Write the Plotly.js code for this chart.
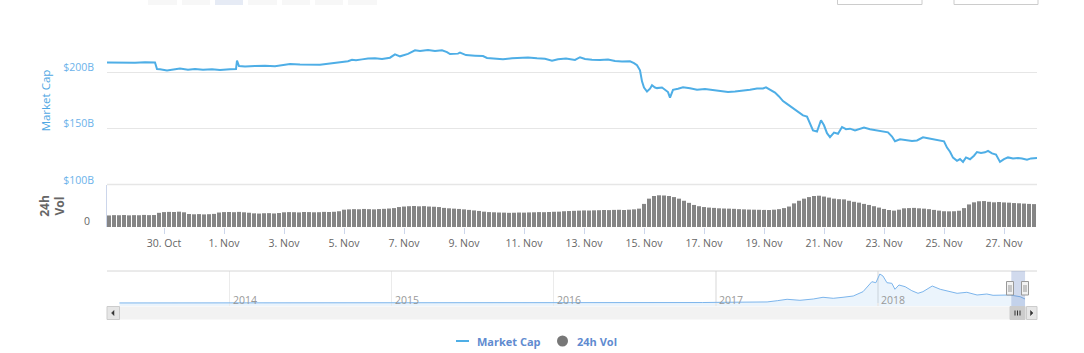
<!DOCTYPE html>
<html>
<head>
<meta charset="utf-8">
<script src="https://cdn.plot.ly/plotly-3.0.1.min.js"></script>
<style>
  html, body { margin: 0; padding: 0; background: #fff; }
  #chart { width: 1084px; height: 353px; }
</style>
</head>
<body>
<div id="chart"></div>
<script>
// ---------- DATA ----------
// Market cap (billions USD)
const mcTimes = [
  '2018-10-28 02:24','2018-10-28 08:48','2018-10-28 16:48',
  '2018-10-29 00:48','2018-10-29 08:48','2018-10-29 14:24','2018-10-29 16:48','2018-10-29 18:24','2018-10-29 20:48',
  '2018-10-30 02:24','2018-10-30 07:12','2018-10-30 12:48','2018-10-30 19:12',
  '2018-10-31 00:48','2018-10-31 07:12','2018-10-31 14:24','2018-10-31 20:48',
  '2018-11-01 00:48','2018-11-01 04:48','2018-11-01 09:36','2018-11-01 10:24','2018-11-01 12:00','2018-11-01 16:48',
  '2018-11-02 00:48','2018-11-02 08:48','2018-11-02 16:48','2018-11-02 23:12',
  '2018-11-03 04:48','2018-11-03 12:48','2018-11-03 20:48',
  '2018-11-04 04:48','2018-11-04 12:48','2018-11-04 20:48',
  '2018-11-05 03:12','2018-11-05 06:24','2018-11-05 09:36','2018-11-05 14:24','2018-11-05 19:12',
  '2018-11-06 00:48','2018-11-06 06:24','2018-11-06 12:48','2018-11-06 16:48','2018-11-06 20:48',
  '2018-11-07 03:12','2018-11-07 08:48','2018-11-07 12:48','2018-11-07 19:12',
  '2018-11-08 00:48','2018-11-08 06:24','2018-11-08 10:24','2018-11-08 12:48','2018-11-08 19:12','2018-11-08 20:48',
  '2018-11-09 01:36','2018-11-09 08:48','2018-11-09 15:12','2018-11-09 18:24',
  '2018-11-10 00:48','2018-11-10 07:12','2018-11-10 14:24','2018-11-10 20:48',
  '2018-11-11 03:12','2018-11-11 10:24','2018-11-11 16:48','2018-11-11 22:24',
  '2018-11-12 03:12','2018-11-12 09:36','2018-11-12 16:48','2018-11-12 20:48',
  '2018-11-13 00:48','2018-11-13 06:24','2018-11-13 12:48','2018-11-13 19:12',
  '2018-11-14 00:48','2018-11-14 06:24','2018-11-14 12:48','2018-11-14 16:00','2018-11-14 18:24','2018-11-14 20:48','2018-11-14 22:24',
  '2018-11-15 00:00','2018-11-15 02:24','2018-11-15 04:48','2018-11-15 06:24','2018-11-15 08:48','2018-11-15 10:24','2018-11-15 14:24','2018-11-15 16:48','2018-11-15 19:12','2018-11-15 20:48','2018-11-15 23:12',
  '2018-11-16 03:12','2018-11-16 07:12','2018-11-16 12:48','2018-11-16 18:24',
  '2018-11-17 00:48','2018-11-17 06:24','2018-11-17 12:48','2018-11-17 19:12',
  '2018-11-18 00:48','2018-11-18 06:24','2018-11-18 12:48','2018-11-18 18:24','2018-11-18 23:12',
  '2018-11-19 01:36','2018-11-19 04:48','2018-11-19 08:48','2018-11-19 12:00','2018-11-19 15:12','2018-11-19 18:24','2018-11-19 21:36',
  '2018-11-20 00:48','2018-11-20 04:00','2018-11-20 07:12','2018-11-20 10:24','2018-11-20 12:48','2018-11-20 15:12','2018-11-20 18:24','2018-11-20 21:36',
  '2018-11-21 00:00','2018-11-21 02:24','2018-11-21 04:48','2018-11-21 08:00','2018-11-21 11:12','2018-11-21 14:24','2018-11-21 17:36','2018-11-21 20:48',
  '2018-11-22 00:48','2018-11-22 04:48','2018-11-22 08:00','2018-11-22 12:48','2018-11-22 18:24','2018-11-22 23:12',
  '2018-11-23 03:12','2018-11-23 06:24','2018-11-23 08:48','2018-11-23 12:48','2018-11-23 17:36','2018-11-23 22:24',
  '2018-11-24 02:24','2018-11-24 07:12','2018-11-24 11:12','2018-11-24 16:00','2018-11-24 20:48',
  '2018-11-25 00:00','2018-11-25 02:24','2018-11-25 04:48','2018-11-25 07:12','2018-11-25 10:24','2018-11-25 12:48','2018-11-25 15:12','2018-11-25 17:36','2018-11-25 20:48',
  '2018-11-26 00:00','2018-11-26 02:24','2018-11-26 05:36','2018-11-26 08:48','2018-11-26 11:12','2018-11-26 14:24','2018-11-26 17:36','2018-11-26 20:48',
  '2018-11-27 00:00','2018-11-27 03:12','2018-11-27 07:12','2018-11-27 11:12','2018-11-27 14:24','2018-11-27 18:24','2018-11-27 21:36',
  '2018-11-28 02:24'
];
const mcValues = [
  208.7,208.5,208.9,
  208.6,209.0,209.2,208.8,203.0,202.8,
  201.6,202.6,203.3,202.4,
  202.9,202.3,202.7,202.1,
  202.6,202.8,202.9,210.4,205.6,205.2,
  205.6,205.9,205.5,206.8,
  207.3,207.0,206.6,
  206.8,207.8,208.6,
  209.8,211.2,210.8,211.5,212.3,
  212.4,211.9,213.0,216.0,214.2,
  216.4,219.6,219.0,219.8,
  219.0,219.5,218.0,216.3,216.6,217.6,
  215.3,214.8,214.5,212.8,
  212.0,211.6,212.6,212.9,
  213.2,212.4,212.0,210.4,
  211.6,212.2,211.0,213.4,
  211.8,211.2,210.9,211.3,
  210.0,209.6,209.8,208.2,206.3,201.8,192.0,
  186.5,183.0,185.5,188.5,186.5,186.0,186.5,184.5,182.5,177.5,184.5,
  185.5,186.8,185.8,184.5,
  185.3,184.3,183.2,182.6,
  183.0,183.6,184.6,185.6,185.6,
  186.6,184.6,182.0,178.6,174.5,172.0,169.5,
  167.5,165.0,161.8,160.8,155.0,148.4,147.5,157.5,
  153.0,146.0,142.5,146.5,145.5,151.5,149.5,150.0,
  148.4,149.8,151.1,149.5,148.4,147.8,
  146.7,143.0,138.8,140.5,140.0,139.0,
  139.5,142.3,141.5,140.6,139.8,
  138.8,133.2,129.5,124.3,121.5,123.0,120.5,124.5,122.9,
  126.0,129.3,128.5,129.0,130.3,128.0,127.0,120.5,
  123.0,124.5,123.5,124.0,123.5,122.5,123.6,
  123.9
];

// 24h volume (billions USD), one bar every 4 hours
const volStart = '2018-10-28 04:00';
const volStepHours = 4;
const volValues = [
  11.0,11.3,11.2,11.4,11.1,11.3,11.2,11.5,11.3,11.4,
  13.5,14.2,14.4,14.3,14.6,14.0,
  12.4,12.1,12.3,12.0,12.2,12.5,
  13.8,14.2,14.3,14.1,14.4,14.0,13.6,
  13.0,12.8,13.1,13.2,12.9,13.3,
  14.0,14.2,14.1,13.9,14.3,14.2,14.0,14.1,14.4,14.3,14.5,15.0,
  16.5,16.8,17.0,16.9,17.2,17.0,16.8,17.1,17.3,17.6,18.0,
  19.0,19.5,19.8,20.0,19.7,19.9,19.5,19.3,19.0,
  18.2,17.8,17.5,17.2,16.8,16.3,15.8,15.3,
  14.6,14.2,14.0,13.8,13.7,13.5,13.6,13.8,13.7,13.9,14.0,14.2,14.1,14.3,14.5,14.6,
  15.0,15.2,15.4,15.6,15.8,15.7,15.9,16.0,16.2,16.1,16.3,16.4,16.2,16.5,16.8,17.5,
  22.0,27.0,29.5,
  30.2,30.0,29.5,28.5,27.0,
  25.0,23.0,21.0,19.8,
  19.0,18.5,18.2,17.8,17.6,17.5,17.3,17.0,16.8,16.6,16.5,16.4,
  16.3,16.2,16.5,17.0,18.0,19.5,
  22.5,25.0,27.0,28.5,29.5,29.8,29.0,28.0,
  27.0,26.5,26.3,25.0,24.0,23.2,22.0,
  21.0,19.8,18.5,17.2,16.2,15.6,16.5,
  17.8,18.0,18.2,17.8,17.5,17.0,16.3,15.6,
  15.0,14.9,15.0,15.5,
  18.0,21.5,23.5,24.5,24.7,
  24.0,23.5,23.8,23.4,23.2,22.8,22.6,22.3,22.0,21.8
];

// Navigator: full history of market cap (billions USD)
const navTimes = ['2013-04-28','2013-07-01','2013-10-01','2013-11-30','2014-01-15','2014-04-01','2014-07-01','2014-10-01',
  '2015-01-15','2015-04-01','2015-07-01','2015-10-01','2015-12-01','2016-03-01','2016-06-15','2016-09-01','2016-12-01',
  '2017-01-01','2017-03-01','2017-04-26','2017-05-19','2017-06-10','2017-07-09','2017-08-08','2017-08-30','2017-09-22',
  '2017-10-14','2017-11-06','2017-11-28','2017-12-18','2017-12-27','2018-01-05','2018-01-12','2018-01-21','2018-02-01',
  '2018-02-08','2018-02-17','2018-03-03','2018-03-18','2018-04-01','2018-04-12','2018-05-03','2018-05-21','2018-06-05',
  '2018-06-28','2018-07-20','2018-08-12','2018-09-03','2018-09-17','2018-10-25','2018-11-17','2018-11-28'];
const navValues = [1.5,1.2,1.8,14,11,7,8,5.5,
  3.5,3.6,4.5,3.8,6,7,12,11,13,
  18,22,30,66,106,77,114,163,134,
  163,200,323,609,580,829,772,580,563,
  392,515,466,352,277,323,486,392,343,
  277,306,229,257,220,229,180,115];

const yTicks = [100,150,200,250];
const yTickText = ['$100B','$150B','$200B',''];
const yearTicks = ['2014-01-01','2015-01-01','2016-01-01','2017-01-01','2018-01-01'];
const yearText = ['2014','2015','2016','2017','2018'];

// ---------- LAYOUT HELPERS ----------
const W = 1084, H = 353, ML = 107, MR = 47;
const PW = W - ML - MR;
const px = x => (x - ML) / PW;
const py = y => 1 - y / H;
const LINE = '#4eaee6';

function rect(x0, y0, x1, y1, fill, lineColor, lw) {
  return { type: 'rect', xref: 'paper', yref: 'paper',
    x0: px(x0), x1: px(x1), y0: py(y1), y1: py(y0),
    fillcolor: fill, line: { color: lineColor || fill, width: lw === undefined ? 1 : lw }, layer: 'above' };
}
function seg(x0, y0, x1, y1, color, w, layer) {
  return { type: 'line', xref: 'paper', yref: 'paper',
    x0: px(x0), x1: px(x1), y0: py(y0), y1: py(y1), line: { color: color, width: w || 1 }, layer: layer || 'above' };
}
function tri(pts, color) {
  const p = pts.map((q, i) => (i ? 'L' : 'M') + px(q[0]) + ',' + py(q[1])).join(' ') + ' Z';
  return { type: 'path', xref: 'paper', yref: 'paper', path: p, fillcolor: color, line: { color: color, width: 0.5 }, layer: 'above' };
}

const traces = [
  { type: 'bar', x0: volStart, dx: volStepHours * 3600 * 1000, y: volValues,
    xaxis: 'x2', yaxis: 'y2', marker: { color: '#858585' }, hoverinfo: 'skip', name: '24h Vol' },
  { type: 'scatter', mode: 'lines', x: mcTimes, y: mcValues, xaxis: 'x', yaxis: 'y',
    line: { color: LINE, width: 2 }, name: 'Market Cap' },
  { type: 'scatter', mode: 'lines', x: navTimes, y: navValues, xaxis: 'x3', yaxis: 'y3',
    fill: 'tozeroy', fillcolor: 'rgba(124,181,236,0.15)', line: { color: '#7cb5ec', width: 1 }, hoverinfo: 'skip' }
];

const shapes = [
  // boundary gridline between main and volume panels
  seg(107, 184.5, 1037, 184.5, '#e6e6e6', 1.5, 'below'),
  // navigator strip under the zero line
  { type: 'rect', xref: 'x3', yref: 'y3', x0: navTimes[0], x1: navTimes[navTimes.length - 1], y0: -86, y1: 0,
    fillcolor: 'rgba(124,181,236,0.15)', line: { width: 0 }, layer: 'below' },
  seg(107, 271, 1037, 271, '#d6d6d6', 1),
  // selected range mask
  { type: 'rect', xref: 'x3', yref: 'paper', x0: mcTimes[0], x1: mcTimes[mcTimes.length - 1],
    y0: py(306), y1: py(271), fillcolor: 'rgba(102,133,194,0.3)', line: { width: 0 }, layer: 'above' },
  // handles
  rect(1006.5, 281.5, 1013.5, 295, '#f2f2f2', '#999999', 1),
  seg(1009, 285, 1009, 292, '#999999', 1), seg(1011, 285, 1011, 292, '#999999', 1),
  rect(1021.5, 281.5, 1028.5, 295, '#f2f2f2', '#999999', 1),
  seg(1024, 285, 1024, 292, '#999999', 1), seg(1026, 285, 1026, 292, '#999999', 1),
  // scrollbar
  rect(107, 306.5, 1037, 319.5, '#f2f2f2', '#f2f2f2', 0),
  rect(107, 306.5, 119.5, 319.5, '#e6e6e6', '#cccccc', 1),
  tri([[114, 310.5], [111.5, 313], [114, 315.5]], '#333333'),
  rect(1010, 306.5, 1025, 319.5, '#cccccc', '#cccccc', 1),
  seg(1015, 310.5, 1015, 315.5, '#333333', 1), seg(1017.5, 310.5, 1017.5, 315.5, '#333333', 1), seg(1020, 310.5, 1020, 315.5, '#333333', 1),
  rect(1026.5, 306.5, 1037, 319.5, '#e6e6e6', '#cccccc', 1),
  tri([[1030.5, 310.5], [1033, 313], [1030.5, 315.5]], '#333333'),
  // range selector buttons (cut off at top)
  rect(148, -4, 177, 5, '#f7f7f7', '#f7f7f7', 0),
  rect(182, -4, 210, 5, '#f7f7f7', '#f7f7f7', 0),
  rect(215, -4, 243, 5, '#e6ebf5', '#e6ebf5', 0),
  rect(248, -4, 277, 5, '#f7f7f7', '#f7f7f7', 0),
  rect(282, -4, 310, 5, '#f7f7f7', '#f7f7f7', 0),
  rect(315, -4, 343, 5, '#f7f7f7', '#f7f7f7', 0),
  rect(348, -4, 377, 5, '#f7f7f7', '#f7f7f7', 0),
  rect(837.5, -4, 922, 4.5, '#ffffff', '#cccccc', 1),
  rect(954, -4, 1038, 4.5, '#ffffff', '#cccccc', 1),
  // legend symbols
  seg(456, 341, 469, 341, LINE, 2),
  { type: 'circle', xref: 'paper', yref: 'paper', x0: px(557), x1: px(568), y0: py(346.5), y1: py(335.5),
    fillcolor: '#777777', line: { width: 0 } }
];

const annotations = [
  { xref: 'paper', yref: 'paper', x: px(475), y: py(341), xanchor: 'left', yanchor: 'middle', showarrow: false,
    text: 'Market Cap', font: { family: 'Open Sans', size: 11, color: '#5f8bd0', weight: 'bold' } },
  { xref: 'paper', yref: 'paper', x: px(575), y: py(341), xanchor: 'left', yanchor: 'middle', showarrow: false,
    text: '24h Vol', font: { family: 'Open Sans', size: 11, color: '#5f8bd0', weight: 'bold' } }
].concat(yearTicks.map((d, i) => ({
  xref: 'x3', yref: 'paper', x: d, y: py(300), xanchor: 'left', yanchor: 'middle', xshift: 1, showarrow: false,
  text: yearText[i], font: { family: 'Open Sans', size: 10.5, color: '#999999' }
})));

const layout = {
  width: W, height: H,
  margin: { l: ML, r: MR, t: 0, b: 0 },
  paper_bgcolor: '#ffffff', plot_bgcolor: 'rgba(0,0,0,0)',
  showlegend: false, bargap: 0.2,
  font: { family: 'Open Sans', size: 10.5, color: '#666666' },
  xaxis: { domain: [0, 1], anchor: 'y', type: 'date', range: [mcTimes[0], mcTimes[mcTimes.length - 1]],
    showticklabels: false, showgrid: false, zeroline: false, showline: false, ticks: '' },
  yaxis: { domain: [py(185), py(16)], anchor: 'x', range: [100, 250], tickvals: yTicks, ticktext: yTickText,
    gridcolor: '#e6e6e6', zeroline: false, showline: false, ticks: '',
    tickfont: { size: 10.5, color: '#6cb2ea' }, ticklabelshift: -5, ticklabelstandoff: 12, automargin: false,
    title: { text: 'Market Cap', font: { size: 11.5, color: '#4fa7e3' }, standoff: 10 } },
  xaxis2: { domain: [0, 1], anchor: 'y2', type: 'date', matches: 'x',
    tick0: '2018-10-30', dtick: 2 * 86400000, tickformat: '%-d. %b',
    ticks: 'outside', ticklen: 6, tickcolor: '#ccd6eb', tickwidth: 1,
    tickfont: { size: 10.5, color: '#666666' }, showgrid: false, zeroline: false, showline: false, automargin: false },
  yaxis2: { domain: [py(227), py(185)], anchor: 'x2', range: [0, 40], tickvals: [0, 40], ticktext: ['0', ''],
    gridcolor: '#e6e6e6', zeroline: false, showline: true, linecolor: '#ccd6eb', ticks: '',
    tickfont: { size: 10.5, color: '#666666' }, ticklabelshift: -6, ticklabelstandoff: 14, automargin: false,
    title: { text: '24h<br>Vol', font: { size: 12, color: '#666666', weight: 'bold' }, standoff: 16 } },
  xaxis3: { domain: [0, 1], anchor: 'y3', type: 'date', range: ['2013-03-31', '2018-12-25'],
    tickvals: yearTicks, showticklabels: false, ticks: '',
    showgrid: true, gridcolor: '#ebebeb', gridwidth: 1.5, zeroline: false, showline: false, automargin: false },
  yaxis3: { domain: [py(306), py(271)], anchor: 'x3', range: [-86, 915], visible: false, showgrid: false, zeroline: false },
  shapes: shapes,
  annotations: annotations
};

Plotly.newPlot('chart', traces, layout, { displayModeBar: false, staticPlot: true });
</script>
</body>
</html>
